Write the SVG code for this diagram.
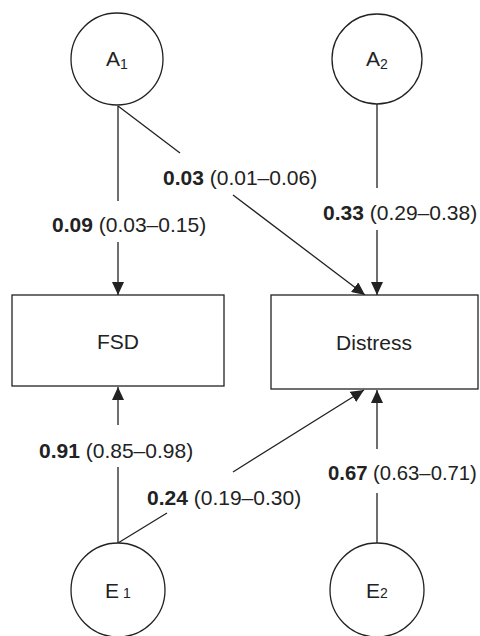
<svg xmlns="http://www.w3.org/2000/svg" width="480" height="636" viewBox="0 0 480 636">
<style>
.node{fill:#fff;stroke:#222;stroke-width:1.3}
.nt{font-family:"Liberation Sans",Arial,sans-serif;font-size:21px;fill:#222;text-anchor:middle}
.sub{font-size:14px}
.lb{font-family:"Liberation Sans",Arial,sans-serif;font-size:21px;fill:#222}
.b{font-weight:bold}
.edge{fill:none;stroke:#222;stroke-width:1.3}
</style>
<defs>
<marker id="arr" markerUnits="userSpaceOnUse" markerWidth="13" markerHeight="12" refX="13" refY="6" orient="auto">
<path d="M0,0 L13,6 L0,12 z" fill="#222"/>
</marker>
</defs>
<rect width="480" height="636" fill="#fff"/>
<g id="connectors">
<path class="edge" d="M118,106 L118,201 M118,242 L118,295" marker-end="url(#arr)"/>
<path class="edge" d="M118,106 L180,153 M233,195 L365,295" marker-end="url(#arr)"/>
<path class="edge" d="M377,104 L377,188 M377,230 L377,295" marker-end="url(#arr)"/>
<path class="edge" d="M118,543 L118,467 M118,425 L118,387" marker-end="url(#arr)"/>
<path class="edge" d="M118,543 L167,513 M233,472 L364,390" marker-end="url(#arr)"/>
<path class="edge" d="M377,543 L377,493 M377,449 L377,390" marker-end="url(#arr)"/>
</g>
<g id="A1">
<circle class="node" cx="117" cy="59" r="46"/>
<text class="nt" x="117" y="66">A<tspan class="sub" dy="3">1</tspan></text>
</g>
<g id="A2">
<circle class="node" cx="377" cy="59" r="45"/>
<text class="nt" x="377" y="66">A<tspan class="sub" dy="3">2</tspan></text>
</g>
<g id="FSD">
<rect class="node" x="12" y="295" width="212" height="91"/>
<text class="nt" x="118" y="349">FSD</text>
</g>
<g id="Distress">
<rect class="node" x="271" y="295" width="207" height="94"/>
<text class="nt" x="374" y="350">Distress</text>
</g>
<g id="E1">
<circle class="node" cx="118" cy="590" r="47"/>
<text class="nt" x="118" y="598">E<tspan class="sub" dx="4">1</tspan></text>
</g>
<g id="E2">
<circle class="node" cx="377" cy="590" r="47"/>
<text class="nt" x="377" y="598">E<tspan class="sub">2</tspan></text>
</g>
<g id="labels">
<text class="lb" x="52" y="232"><tspan class="b">0.09</tspan> (0.03–0.15)</text>
<text class="lb" x="163" y="185"><tspan class="b">0.03</tspan> (0.01–0.06)</text>
<text class="lb" x="323" y="220"><tspan class="b">0.33</tspan> (0.29–0.38)</text>
<text class="lb" x="39" y="458"><tspan class="b">0.91</tspan> (0.85–0.98)</text>
<text class="lb" x="147" y="505"><tspan class="b">0.24</tspan> (0.19–0.30)</text>
<text class="lb" x="328" y="480" style="font-size:20.3px"><tspan class="b">0.67</tspan> (0.63–0.71)</text>
</g>
</svg>
